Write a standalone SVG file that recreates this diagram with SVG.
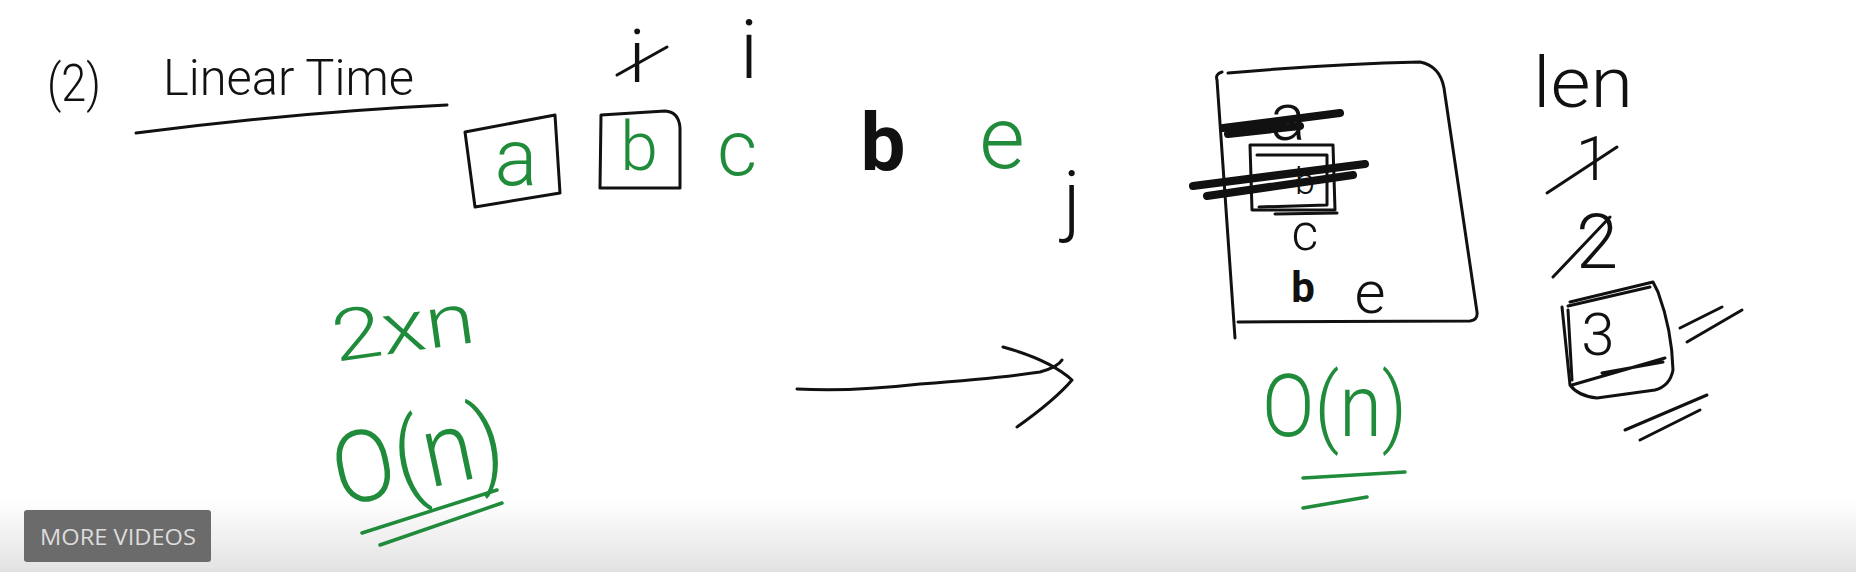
<svg xmlns="http://www.w3.org/2000/svg" width="1856" height="572" viewBox="0 0 1856 572">
<defs>
<linearGradient id="fade" x1="0" y1="0" x2="0" y2="1">
<stop offset="0" stop-color="#ffffff"/>
<stop offset="1" stop-color="#e2e2e2"/>
</linearGradient>
<style>
.k{fill:none;stroke:#111;stroke-width:3;stroke-linecap:round;stroke-linejoin:round}
.g{fill:none;stroke:#1f8b3b;stroke-width:3.5;stroke-linecap:round;stroke-linejoin:round}
.strike{fill:none;stroke:#111;stroke-width:8;stroke-linecap:round}
.tk{font-family:Roboto,"Liberation Sans","DejaVu Sans",sans-serif;font-weight:300;fill:#111}
.tg{font-family:Roboto,"Liberation Sans","DejaVu Sans",sans-serif;font-weight:300;fill:#1f8b3b}
.btn{font-family:"Open Sans","Liberation Sans",sans-serif;fill:#dcdcdc}
</style>
</defs>
<rect x="0" y="0" width="1856" height="572" fill="#ffffff"/>
<rect x="0" y="500" width="1856" height="72" fill="url(#fade)"/>

<g id="title">
<text class="tk" x="47" y="101" font-size="52" textLength="54" lengthAdjust="spacingAndGlyphs">(2)</text>
<text class="tk" x="163" y="95" font-size="50" textLength="251" lengthAdjust="spacingAndGlyphs">Linear Time</text>
<path class="k" d="M136,133 Q300,112 447,105" stroke-width="4"/>
</g>

<g id="string">
<path class="k" d="M465,132 L555,115 L560,193 L475,207 Z"/>
<text class="tg" x="516" y="185" font-size="80" text-anchor="middle">a</text>
<path class="k" d="M601,115 L665,111 Q679,112 680,128 L680,188 L600,188 Z"/>
<text class="tg" x="639" y="170" font-size="68" text-anchor="middle">b</text>
<text class="tg" x="737" y="175" font-size="78" text-anchor="middle">c</text>
<text class="tk" x="883" y="170" font-size="80" text-anchor="middle" style="font-weight:700">b</text>
<text class="tg" x="1002" y="168" font-size="88" text-anchor="middle">e</text>
</g>

<g id="pointers">
<text class="tk" x="637" y="82" font-size="74" text-anchor="middle">i</text>
<path class="k" d="M617,75 L667,47"/>
<text class="tk" x="749" y="78" font-size="82" text-anchor="middle">i</text>
<text class="tk" x="1072" y="226" font-size="78" text-anchor="middle">j</text>
</g>

<g id="left-complexity">
<text class="tg" x="332" y="352" font-size="72" textLength="143" lengthAdjust="spacingAndGlyphs" transform="rotate(-8 403 330)">2xn</text>
<text class="tg" x="328" y="490" font-size="100" textLength="172" lengthAdjust="spacingAndGlyphs" transform="rotate(-12 414 440)">O(n)</text>
<path class="g" d="M362,533 L497,490"/>
<path class="g" d="M380,545 L502,503"/>
</g>

<g id="connectors">
<path class="k" d="M797,389 Q850,392 920,384 Q1000,378 1040,372 Q1058,367 1062,360"/>
<path class="k" d="M1003,347 Q1050,360 1072,380 Q1055,400 1017,427"/>
</g>

<g id="window">
<path class="k" d="M1222,72 Q1215,74 1217,80 L1235,338"/>
<path class="k" d="M1228,73 Q1330,64 1420,62 Q1440,66 1444,88 L1477,312 Q1478,320 1470,321 L1238,322"/>
<text class="tk" x="1288" y="140" font-size="66" text-anchor="middle">a</text>
<path class="strike" d="M1223,128 L1340,113"/>
<path class="strike" d="M1228,134 L1300,126" stroke-width="5"/>
<path class="k" d="M1250,145 L1333,145 L1335,210 L1252,210 Z"/>
<path class="k" d="M1257,155 L1327,155 L1327,205 L1259,207" stroke-width="2"/>
<text class="tk" x="1305" y="194" font-size="36" text-anchor="middle">b</text>
<path class="strike" d="M1193,186 L1365,164"/>
<path class="strike" d="M1207,196 L1353,175"/>
<path class="k" d="M1275,214 L1337,213"/>
<text class="tk" x="1305" y="250" font-size="52" text-anchor="middle">c</text>
<text class="tk" x="1303" y="302" font-size="42" text-anchor="middle" style="font-weight:700">b</text>
<text class="tk" x="1370" y="313" font-size="60" text-anchor="middle">e</text>
</g>

<g id="right-complexity">
<text class="tg" x="1262" y="436" font-size="88" textLength="145" lengthAdjust="spacingAndGlyphs">O(n)</text>
<path class="g" d="M1303,478 L1405,472"/>
<path class="g" d="M1303,508 L1367,497"/>
</g>

<g id="len">
<text class="tk" x="1533" y="107" font-size="70" textLength="100" lengthAdjust="spacingAndGlyphs">len</text>
<text class="tk" x="1593" y="180" font-size="62" text-anchor="middle">1</text>
<path class="k" d="M1547,193 L1617,147"/>
<text class="tk" x="1597" y="268" font-size="76" text-anchor="middle">2</text>
<path class="k" d="M1553,277 L1610,217"/>
<path class="k" d="M1570,302 L1653,282 L1658,292 Q1672,330 1673,370 Q1670,386 1655,390 L1597,398 Q1578,396 1570,385 L1562,307"/>
<path class="k" d="M1568,310 L1572,380 M1572,385 L1665,358 M1602,373 L1663,362 M1568,306 L1650,287" stroke-width="2.5"/>
<text class="tk" x="1598" y="355" font-size="60" text-anchor="middle">3</text>
<path class="k" d="M1680,328 L1722,307 M1687,342 L1742,310"/>
<path class="k" d="M1625,430 L1707,395 M1640,440 L1700,410"/>
</g>

<g id="more-videos">
<rect x="24" y="510" width="187" height="52" rx="3" fill="#6b6b6b"/>
<text class="btn" x="40" y="545" font-size="22" textLength="156" lengthAdjust="spacingAndGlyphs">MORE VIDEOS</text>
</g>
</svg>
